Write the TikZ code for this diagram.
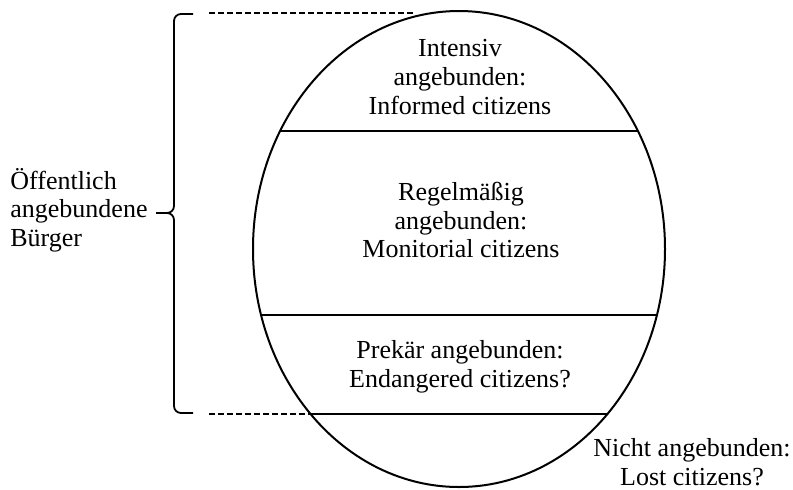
\documentclass[tikz,border=0pt]{standalone}
\usepackage{fontspec}
\setmainfont{Liberation Serif}

\tikzset{
  layer/.style = {align=center, inner sep=0pt, font=\fontsize{13}{14.3}\selectfont},
  side/.style = {layer, align=left},
  sep/.style = {line width=0.75pt},
  guide/.style = {line width=0.75pt, dash pattern=on 3pt off 1.5pt},
  bracket/.style = {line width=0.9pt, rounded corners=3.5pt},
}

\begin{document}
\begin{tikzpicture}[x=0.5pt, y=-0.5pt]
\useasboundingbox (0,0) rectangle (793,489);

% oval
\coordinate (mid) at (459,249);
\draw[line width=1pt] (mid) ellipse [x radius=206, y radius=238];

% layer borders, cut to the oval
\coordinate (s1l) at (200,131); \coordinate (s1r) at (720,131);
\coordinate (s2l) at (200,315); \coordinate (s2r) at (720,315);
\coordinate (s3l) at (200,414); \coordinate (s3r) at (720,414);
\begin{scope}
\clip (mid) ellipse [x radius=206, y radius=238];
\draw[sep] (s1l) -- (s1r);
\draw[sep] (s2l) -- (s2r);
\draw[sep] (s3l) -- (s3r);
\end{scope}

\node[layer] (informed) at (460,77) {Intensiv\\angebunden:\\Informed citizens};
\node[layer] (monitorial) at (461,220) {Regelm\"a\ss ig\\angebunden:\\Monitorial citizens};
\node[layer] (endangered) at (460,367) {Prek\"ar angebunden:\\Endangered citizens?};
\node[layer] (lost) at (692,462) {Nicht angebunden:\\Lost citizens?};

% brace with guides
\coordinate (gt0) at (209,13); \coordinate (gt1) at (415,13);
\coordinate (gb0) at (209,414); \coordinate (gb1) at (415,414);
\draw[guide] (gt0) -- (gt1);
\draw[guide] (gb0) -- (gb1);
\coordinate (bt) at (193,14); \coordinate (bb) at (193,413);
\coordinate (btip) at (156,213);
\draw[bracket] (bt) -- (174,14) -- (174,213) -- (btip);
\draw[bracket] (btip) -- (174,213) -- (174,413) -- (bb);

\node[side, anchor=west] (public) at (10,210) {\"Offentlich\\angebundene\\B\"urger};
\end{tikzpicture}
\end{document}
